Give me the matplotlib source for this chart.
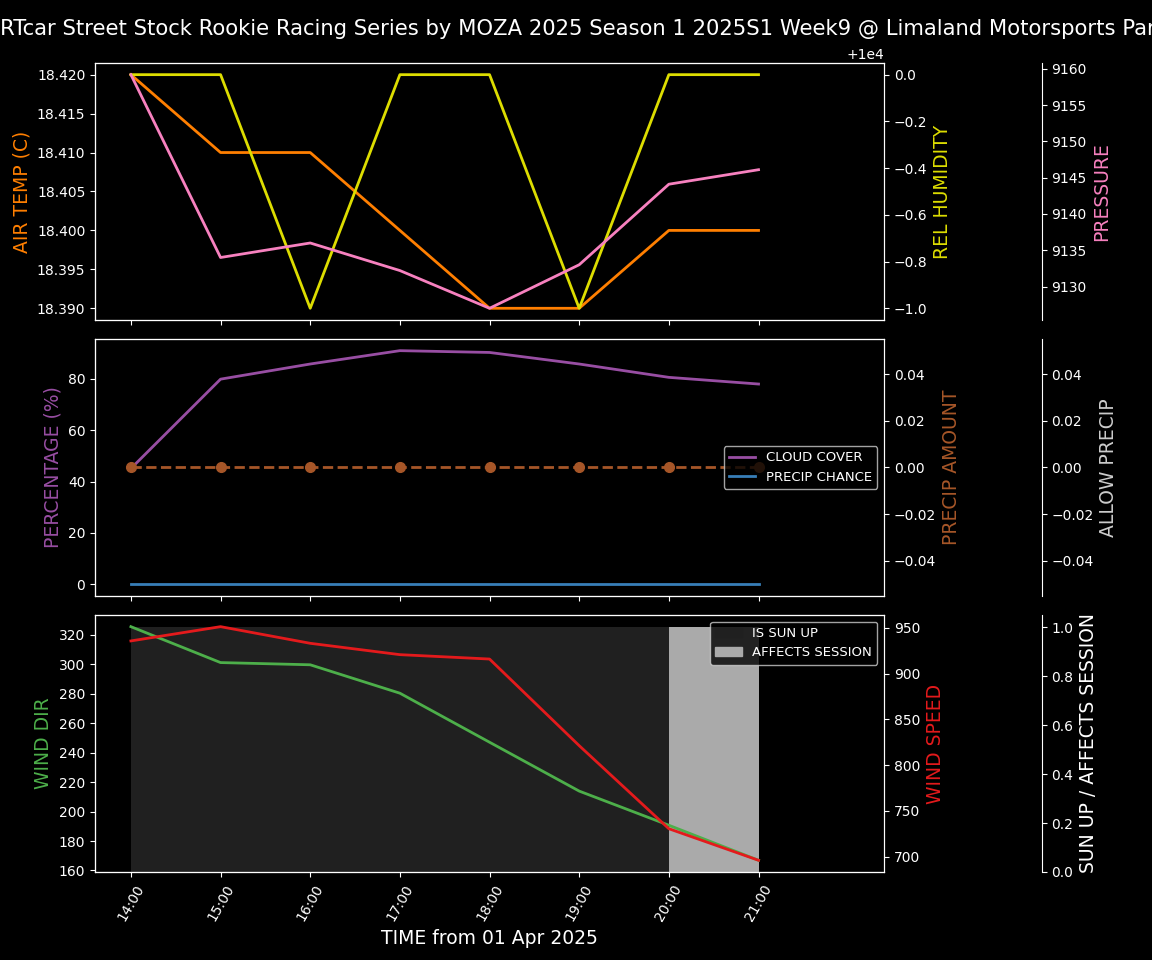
import matplotlib
matplotlib.use("Agg")
import matplotlib.pyplot as plt
import matplotlib.dates as mdates
from matplotlib.patches import Patch
from datetime import datetime, timedelta

# --- data ---
times = [datetime(2025, 4, 1, h) for h in range(14, 22)]
air_temp = [18.42, 18.41, 18.41, 18.40, 18.39, 18.39, 18.40, 18.40]
rel_humidity = [10000, 10000, 9999, 10000, 10000, 9999, 10000, 10000]
pressure = [9159.2, 9134.0, 9136.0, 9132.2, 9127.0, 9133.0, 9144.1, 9146.1]

cloud_cover = [45.1, 79.9, 85.8, 91.0, 90.3, 85.8, 80.6, 78.0]
precip_chance = [0, 0, 0, 0, 0, 0, 0, 0]
precip_amount = [0, 0, 0, 0, 0, 0, 0, 0]

wind_dir = [325.6, 301.2, 299.7, 280.4, 247.1, 213.9, 190.7, 166.9]
wind_speed = [935.8, 951.4, 933.2, 920.8, 916.0, 821.3, 730.5, 696.0]
sun_up = [1, 1, 1, 1, 1, 1, 1, 1]
affects_session = [0, 0, 0, 0, 0, 0, 1, 1]

title = ("RTcar Street Stock Rookie Racing Series by MOZA 2025 Season 1 "
         "2025S1 Week9 @ Limaland Motorsports Park")

# colors
c_temp = "#ff7f00"
c_hum = "#dddd00"
c_pres = "#f781bf"
c_cloud = "#984ea3"
c_pchance = "#377eb8"
c_pamount = "#a65628"
c_allow = "#cccccc"
c_wdir = "#4daf4a"
c_wspd = "#e41a1c"

plt.style.use("dark_background")
fig = plt.figure(figsize=(11.52, 9.6), dpi=100)

left, width = 0.0825, 0.6849
h = 0.2677
ax1 = fig.add_axes([left, 0.6667, width, h])
ax2 = fig.add_axes([left, 0.3792, width, h], sharex=ax1)
ax3 = fig.add_axes([left, 0.0917, width, h], sharex=ax1)

# long title runs off the right edge, as in the original
fig.text(0.0, 0.97, title, ha="left", va="center", fontsize=15.2, color="white")

lw = 2
lab = 13.5
leg = 9.5

# --- top panel: temperature / humidity / pressure ---
ax1.plot(times, air_temp, color=c_temp, lw=lw)
ax1.set_ylabel("AIR TEMP (C)", color=c_temp, fontsize=lab)
ax1.ticklabel_format(axis="y", useOffset=False)

ax1b = ax1.twinx()
ax1b.plot(times, rel_humidity, color=c_hum, lw=lw)
ax1b.set_ylabel("REL HUMIDITY", color=c_hum, fontsize=lab)

ax1c = ax1.twinx()
ax1c.spines["right"].set_position(("axes", 1.2))
ax1c.plot(times, pressure, color=c_pres, lw=lw)
ax1c.set_ylabel("PRESSURE", color=c_pres, fontsize=lab)
plt.setp(ax1.get_xticklabels(), visible=False)

# --- middle panel: cloud / precip ---
l_cloud, = ax2.plot(times, cloud_cover, color=c_cloud, lw=lw, label="CLOUD COVER")
l_chance, = ax2.plot(times, precip_chance, color=c_pchance, lw=lw, label="PRECIP CHANCE")
ax2.set_ylabel("PERCENTAGE (%)", color=c_cloud, fontsize=lab)

ax2b = ax2.twinx()
ax2b.plot(times, precip_amount, color=c_pamount, lw=lw, ls="--", marker="o", ms=7)
ax2b.set_ylabel("PRECIP AMOUNT", color=c_pamount, fontsize=lab)

ax2c = ax2.twinx()
ax2c.spines["right"].set_position(("axes", 1.2))
ax2c.set_ylim(-0.055, 0.055)
ax2c.set_ylabel("ALLOW PRECIP", color=c_allow, fontsize=lab)
ax2c.legend(handles=[l_cloud, l_chance], loc="center right", fontsize=leg)
plt.setp(ax2.get_xticklabels(), visible=False)

# --- bottom panel: wind / sun ---
ax3s = ax3.twinx()
ax3s.spines["right"].set_position(("axes", 1.2))
ax3s.fill_between(times, 0, sun_up, color="#202020", lw=0)
ax3s.fill_between(times, 0, affects_session,
                  where=[a > 0 for a in affects_session], color="#aaaaaa", lw=0)
ax3s.set_ylim(0, 1.05)
ax3s.set_ylabel("SUN UP / AFFECTS SESSION", color="white", fontsize=lab)
ax3s.legend(handles=[Patch(color="#202020", label="IS SUN UP"),
                     Patch(color="#aaaaaa", label="AFFECTS SESSION")],
            loc="upper right", fontsize=leg)

ax3.plot(times, wind_dir, color=c_wdir, lw=lw)
ax3.set_ylabel("WIND DIR", color=c_wdir, fontsize=lab)

ax3b = ax3.twinx()
ax3b.plot(times, wind_speed, color=c_wspd, lw=lw)
ax3b.set_ylabel("WIND SPEED", color=c_wspd, fontsize=lab)

# stacking: sun shading at the back, lines on top
ax3s.set_zorder(0)
ax3.set_zorder(1)
ax3b.set_zorder(2)
ax3.patch.set_visible(False)
ax3b.patch.set_visible(False)

ax3.set_xlim(times[0] - timedelta(minutes=24), times[-1] + timedelta(minutes=84))
ax3.set_xticks(times)
ax3.xaxis.set_major_formatter(mdates.DateFormatter("%H:%M"))
plt.setp(ax3.get_xticklabels(), rotation=60)
ax3.set_xlabel("TIME from 01 Apr 2025", fontsize=lab)

fig.savefig("out.png", dpi=100, facecolor="black")
